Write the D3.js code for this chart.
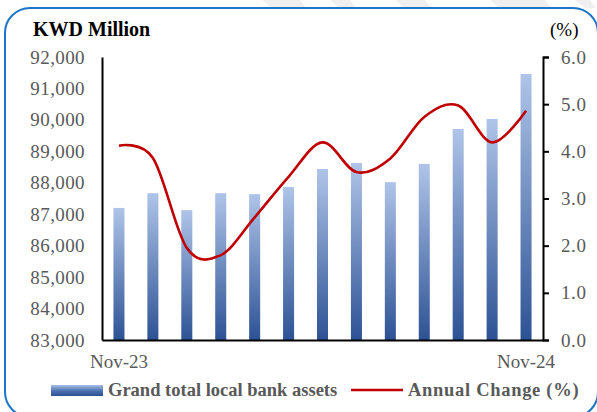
<!DOCTYPE html>
<html>
<head>
<meta charset="utf-8">
<script src="https://cdn.jsdelivr.net/npm/d3@7"></script>
<style>
  html, body { margin: 0; padding: 0; background: #fff; }
  svg { display: block; }
</style>
</head>
<body>
<svg id="chart" width="597" height="412"></svg>
<script>
// Monthly figures, Nov-23 .. Nov-24
const months = ["Nov-23","Dec-23","Jan-24","Feb-24","Mar-24","Apr-24","May-24",
                "Jun-24","Jul-24","Aug-24","Sep-24","Oct-24","Nov-24"];
const totalAssets = [87200, 87670, 87130, 87670, 87640, 87870, 88440,
                     88630, 88020, 88600, 89710, 90030, 91460];
const annualChange = [4.12, 3.86, 1.95, 1.80, 2.60, 3.46, 4.19,
                      3.56, 3.85, 4.73, 4.97, 4.19, 4.86];
const leftTicks = [83000, 84000, 85000, 86000, 87000, 88000, 89000, 90000, 91000, 92000];
const rightTicks = [0, 1, 2, 3, 4, 5, 6];
const xLabels = ["Nov-23", "Nov-24"];

const svg = d3.select("#chart");
const plot = { left: 102, right: 543, top: 57, bottom: 340 };
const grey = "#595959";
const serif = "'Liberation Serif', serif";

// faint background mark peeking above the frame
const wm = svg.append("g").attr("fill", "#efefef");
[[262, 300], [330, 350], [395, 425], [490, 545], [575, 590]].forEach(([a, b]) => {
  wm.append("path").attr("d", `M${a},0 L${b},0 L${b + 6},8 L${a + 10},8 Z`);
});

// rounded frame
svg.append("rect")
  .attr("x", 5).attr("y", 8).attr("width", 593).attr("height", 409)
  .attr("rx", 25).attr("ry", 25)
  .attr("fill", "#fff").attr("stroke", "#1b75c8").attr("stroke-width", 2);

// bar gradient
const defs = svg.append("defs");
const grad = defs.append("linearGradient").attr("id", "barGrad")
  .attr("x1", 0).attr("y1", 0).attr("x2", 0).attr("y2", 1);
grad.append("stop").attr("offset", "0%").attr("stop-color", "#afc4e8");
grad.append("stop").attr("offset", "100%").attr("stop-color", "#2d5294");
const lgGrad = defs.append("linearGradient").attr("id", "legGrad")
  .attr("x1", 0).attr("y1", 0).attr("x2", 0).attr("y2", 1);
lgGrad.append("stop").attr("offset", "0%").attr("stop-color", "#a9bfe4");
lgGrad.append("stop").attr("offset", "55%").attr("stop-color", "#4a6fb0");
lgGrad.append("stop").attr("offset", "100%").attr("stop-color", "#2d5294");

// scales
const x = d3.scaleBand().domain(months)
  .range([plot.left, plot.right])
  .paddingInner(0.675).paddingOuter(0.3375);
const yL = d3.scaleLinear().domain([83000, 92000]).range([plot.bottom, plot.top]);
const yR = d3.scaleLinear().domain([0, 6]).range([plot.bottom, plot.top]);

// bars
svg.append("g").selectAll("rect").data(months).join("rect")
  .attr("x", d => x(d))
  .attr("y", (d, i) => yL(totalAssets[i]))
  .attr("width", x.bandwidth())
  .attr("height", (d, i) => yL(83000) - yL(totalAssets[i]))
  .attr("fill", "url(#barGrad)");

// smoothed annual change line
const line = d3.line()
  .x((d, i) => x(months[i]) + x.bandwidth() / 2)
  .y(d => yR(d))
  .curve(d3.curveCardinal.tension(0));
svg.append("path").datum(annualChange)
  .attr("d", line)
  .attr("fill", "none").attr("stroke", "#c00000")
  .attr("stroke-width", 2.6).attr("stroke-linejoin", "round");

function styleAxis(g) {
  g.select(".domain").attr("stroke", "#000").attr("stroke-width", 2);
  g.selectAll(".tick line").attr("stroke", "#000").attr("stroke-width", 2);
  g.selectAll("text").attr("fill", grey)
    .style("font-family", serif).style("font-size", "19px");
}

// left axis
svg.append("g").attr("transform", `translate(${plot.left},0)`)
  .call(d3.axisLeft(yL).tickValues(leftTicks).tickSize(0).tickPadding(17)
    .tickFormat(d3.format(",")))
  .call(styleAxis)
  .selectAll("text").style("letter-spacing", "0.4px");

// right axis
svg.append("g").attr("transform", `translate(${plot.right},0)`)
  .call(d3.axisRight(yR).tickValues(rightTicks).tickSize(6).tickSizeOuter(6).tickPadding(12)
    .tickFormat(d3.format(".1f")))
  .call(styleAxis)
  .selectAll("text").style("letter-spacing", "0.6px");

// bottom axis
svg.append("g").attr("transform", `translate(0,${plot.bottom})`)
  .call(d3.axisBottom(x).tickValues(xLabels).tickSize(0).tickPadding(15))
  .call(styleAxis);

// titles
svg.append("text").attr("x", 33).attr("y", 36)
  .style("font-family", serif).style("font-size", "20px").style("font-weight", "bold")
  .attr("fill", "#000").text("KWD Million");
svg.append("text").attr("x", 550).attr("y", 36)
  .style("font-family", serif).style("font-size", "19px")
  .attr("fill", "#000").text("(%)");

// legend
const leg = svg.append("g");
leg.append("rect").attr("x", 51).attr("y", 385).attr("width", 52).attr("height", 11)
  .attr("fill", "url(#legGrad)");
leg.append("text").attr("x", 108).attr("y", 396)
  .style("font-family", serif).style("font-size", "18.5px").style("font-weight", "bold")
  .attr("fill", grey).text("Grand total local bank assets");
leg.append("line").attr("x1", 351).attr("x2", 403).attr("y1", 390).attr("y2", 390)
  .attr("stroke", "#c00000").attr("stroke-width", 2.6);
leg.append("text").attr("x", 408).attr("y", 396)
  .style("font-family", serif).style("font-size", "18.5px").style("font-weight", "bold")
  .style("letter-spacing", "0.7px")
  .attr("fill", grey).text("Annual Change (%)");
</script>
</body>
</html>
